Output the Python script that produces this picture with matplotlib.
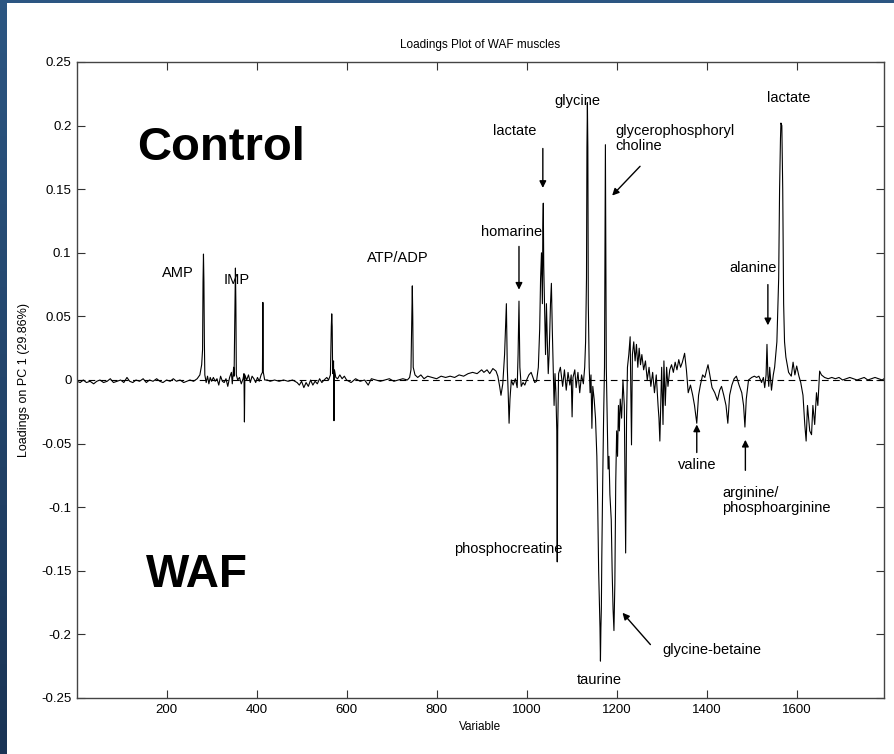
import numpy as np
import matplotlib.pyplot as plt
from matplotlib.patches import Rectangle
from matplotlib.colors import LinearSegmentedColormap

plt.rcParams['font.family'] = ['Liberation Sans', 'DejaVu Sans']

## Loadings (variable, loading)
variable = [
    1, 8, 15, 22, 30, 38, 45, 52, 60, 68, 75, 82, 90, 98, 105, 112, 118, 125, 132, 140,
    148, 155, 162, 170, 178, 185, 192, 200, 208, 215, 222, 230, 238, 245, 252, 260, 268,
    274, 278, 280, 281, 282, 283, 284, 285, 288, 291, 294, 297, 300, 304, 308, 312, 316,
    320, 324, 328, 332, 336, 340, 344, 346, 349, 350, 352, 353, 354, 355, 358, 362, 366,
    370, 372, 373, 374, 378, 382, 386, 390, 394, 398, 402, 406, 410, 413, 414, 415, 418,
    424, 430, 440, 450, 460, 470, 480, 490, 495, 500, 505, 510, 515, 520, 525, 530, 535,
    540, 545, 550, 556, 560, 564, 566, 567, 568, 569, 571, 572, 573, 576, 580, 585, 590,
    595, 600, 610, 620, 630, 640, 648, 655, 665, 675, 685, 695, 705, 715, 725, 735, 740,
    743, 745, 746, 747, 748, 752, 758, 765, 772, 780, 790, 800, 810, 820, 830, 840, 850,
    860, 870, 880, 890, 900, 905, 912, 918, 925, 932, 936,
    940, 943, 947, 951, 955, 957, 959, 961, 963, 966, 970, 975, 979, 981, 983, 985, 988,
    992, 996, 1000, 1005, 1010, 1014, 1018, 1022, 1026, 1029, 1031, 1033, 1035, 1036,
    1037, 1038, 1040, 1042, 1044, 1046, 1048, 1050, 1053, 1055, 1057, 1059, 1061, 1063,
    1065, 1067, 1068, 1069, 1071,
    1075, 1080, 1084, 1088, 1092, 1096, 1099, 1101, 1103, 1107, 1110, 1114, 1118, 1122,
    1126, 1129, 1131, 1133, 1134, 1135, 1136, 1137, 1139, 1141, 1143, 1145, 1147, 1150,
    1153, 1156, 1158, 1160, 1162, 1163, 1164, 1165, 1166, 1167, 1169, 1171, 1173, 1174,
    1175, 1176, 1177, 1179, 1181, 1183, 1185, 1188, 1190, 1192, 1194, 1196, 1198, 1200,
    1202, 1204, 1206, 1208, 1211, 1214, 1217, 1220, 1222, 1224, 1227, 1230, 1233, 1235,
    1238, 1241, 1244, 1247, 1250, 1253, 1256, 1260, 1264, 1268, 1272, 1276, 1280, 1284,
    1288, 1292, 1294, 1296, 1298, 1300, 1303, 1305, 1308, 1311, 1314, 1318,
    1322, 1326, 1330, 1334, 1338, 1342, 1346, 1351, 1355, 1359, 1364, 1369, 1373, 1378,
    1382, 1386, 1391, 1396, 1400, 1403, 1407, 1412, 1418, 1424, 1429, 1433, 1438, 1443,
    1447, 1451, 1456, 1461, 1466, 1472, 1478, 1482, 1485, 1488, 1493, 1500, 1506, 1511,
    1516, 1522, 1526, 1529, 1532, 1534, 1536, 1538, 1540, 1544, 1548, 1551, 1556, 1560,
    1562, 1564, 1565, 1567, 1569, 1571, 1573, 1576, 1582, 1588, 1592, 1596, 1600, 1605,
    1609, 1614, 1618, 1621, 1624, 1629, 1633, 1636, 1640, 1644, 1647, 1651, 1655, 1662,
    1670, 1678, 1686, 1694, 1702, 1710, 1718, 1726, 1734, 1742, 1750, 1758, 1766, 1774,
    1782, 1790, 1794,
]
loading = [
    -0.001, -0.002, 0.000, -0.002, -0.001, -0.003, -0.001, 0.000, -0.002, -0.001, 0.001,
    -0.002, -0.001, 0.000, -0.002, 0.002, -0.001, -0.002, 0.000, -0.001, 0.001, -0.002,
    0.000, -0.001, 0.001, -0.001, -0.002, 0.000, -0.001, 0.001, -0.001, 0.000, -0.002,
    -0.001, 0.000, -0.001, 0.001,
    0.004, 0.012, 0.024, 0.077, 0.099, 0.077, 0.030, 0.004, -0.002, 0.003, -0.003, 0.002,
    -0.001, 0.002, -0.001, 0.001, -0.004, 0.003, -0.001, -0.002, 0.001, -0.005, 0.002,
    0.006, -0.003, 0.010, 0.003, 0.060, 0.088, 0.060, 0.004, 0.000, 0.002, -0.003, 0.001,
    0.005, -0.033, 0.004, 0.000, 0.004, -0.002, 0.003, 0.001, -0.002, 0.002, -0.001,
    0.004, 0.006, 0.061, 0.006, 0.000, 0.000, -0.001, 0.000, -0.001, 0.000, -0.001,
    0.000, -0.002, -0.004, -0.001, -0.006, -0.002, -0.005, 0.000, -0.004, -0.001, -0.003,
    0.001, -0.002, 0.000, 0.002, 0.000, 0.004, 0.042, 0.052, 0.042, 0.005, 0.015, -0.032,
    0.008, 0.002, 0.001, 0.004, 0.001, 0.003, 0.000, -0.002, 0.001, -0.001, 0.000,
    -0.004, 0.001, 0.000, -0.001, 0.000, 0.001, -0.001, 0.000, 0.001, 0.000, 0.002,
    0.008, 0.050, 0.074, 0.050, 0.010, 0.004, 0.002, 0.004, 0.001, 0.003, 0.002, 0.001,
    0.003, 0.002, 0.003, 0.002, 0.004, 0.003, 0.005, 0.006, 0.005, 0.008, 0.006, 0.008,
    0.005, 0.009, 0.007, 0.003,
    -0.005, -0.012, -0.003, 0.020, 0.060, 0.010, -0.010, -0.034, -0.015, 0.000, -0.004,
    0.001, -0.006, 0.020, 0.062, 0.010, -0.005, -0.002, -0.004, 0.000, 0.004, 0.006,
    0.002, -0.002, -0.001, 0.010, 0.040, 0.080, 0.100, 0.060, 0.120, 0.139, 0.090,
    0.055, 0.020, 0.060, 0.030, 0.005, 0.020, 0.060, 0.076, 0.040, 0.010, -0.020, 0.005,
    -0.010, -0.040, -0.143, -0.040, 0.005,
    0.010, -0.005, 0.008, -0.008, 0.006, -0.004, 0.004, -0.029, 0.002, 0.008, -0.006,
    0.006, -0.010, 0.004, -0.003, 0.010, 0.030, 0.080, 0.183, 0.218, 0.183, 0.060, 0.010,
    -0.010, 0.004, -0.038, -0.005, -0.015, -0.030, -0.060, -0.100, -0.150, -0.180,
    -0.195, -0.221, -0.195, -0.180, -0.140, -0.080, -0.030, 0.010, 0.102, 0.185, 0.102,
    0.010, -0.030, -0.070, -0.060, -0.090, -0.110, -0.150, -0.180, -0.197, -0.160,
    -0.080, -0.040, -0.060, -0.020, -0.040, -0.015, -0.030, 0.000, -0.020, -0.136,
    -0.030, 0.010, 0.020, 0.034, -0.051, 0.020, 0.030, 0.015, 0.028, 0.010, 0.025, 0.012,
    0.020, 0.008, 0.015, 0.000, 0.010, -0.005, 0.006, -0.010, 0.004, -0.020, -0.030,
    -0.048, -0.020, 0.010, -0.035, 0.015, -0.020, 0.010, -0.005, 0.008,
    0.012, 0.006, 0.014, 0.008, 0.016, 0.010, 0.014, 0.021, 0.008, -0.010, -0.004,
    -0.012, -0.020, -0.034, -0.012, -0.004, 0.004, 0.002, 0.008, 0.012, 0.004, -0.006,
    -0.010, -0.016, -0.008, -0.005, -0.012, -0.020, -0.034, -0.012, -0.004, 0.001,
    0.003, -0.004, -0.010, -0.020, -0.037, -0.015, 0.000, 0.002, 0.003, 0.002, 0.003,
    -0.002, 0.002, -0.006, 0.004, 0.028, 0.004, -0.005, 0.010, -0.008, 0.004, 0.010,
    0.030, 0.080, 0.150, 0.190, 0.202, 0.200, 0.150, 0.060, 0.030, 0.018, 0.006, 0.003,
    0.014, 0.004, 0.011, 0.003, -0.002, -0.012, -0.035, -0.048, -0.020, -0.040, -0.043,
    -0.020, -0.035, -0.010, -0.020, 0.007, 0.004, 0.002, 0.001, 0.002, 0.001, 0.002,
    0.000, 0.001, 0.002, 0.001, 0.000, 0.001, 0.002, 0.000, 0.001, 0.002, 0.001, 0.000,
    0.001,
]

## Labels of the peaks: (text, x, y, ha)
labels = [
    ('AMP', 225, 0.084, 'center'),
    ('IMP', 356, 0.079, 'center'),
    ('ATP/ADP', 714, 0.096, 'center'),
    ('homarine', 967, 0.116, 'center'),
    ('lactate', 974, 0.196, 'center'),
    ('glycine', 1112, 0.219, 'center'),
    ('glycerophosphoryl\ncholine', 1198, 0.190, 'left'),
    ('lactate', 1582, 0.222, 'center'),
    ('alanine', 1504, 0.088, 'center'),
    ('valine', 1378, -0.067, 'center'),
    ('arginine/\nphosphoarginine', 1434, -0.095, 'left'),
    ('phosphocreatine', 959, -0.133, 'center'),
    ('taurine', 1161, -0.236, 'center'),
    ('glycine-betaine', 1301, -0.212, 'left'),
]
## Arrows: (x_start, y_start, x_end, y_end)
arrows = [
    (983, 0.105, 983, 0.071),
    (1036, 0.182, 1036, 0.151),
    (1252, 0.168, 1190, 0.145),
    (1536, 0.075, 1536, 0.043),
    (1378, -0.057, 1378, -0.035),
    (1486, -0.071, 1486, -0.047),
    (1275, -0.208, 1213, -0.183),
]

fig = plt.figure(figsize=(8.94, 7.54), dpi=100)

# fond bleu en dégradé + zone blanche
bg = fig.add_axes([0, 0, 1, 1], zorder=-10)
cmap = LinearSegmentedColormap.from_list('bleu', ['#2c5682', '#1a3455'])
bg.imshow(np.linspace(0, 1, 100).reshape(-1, 1), aspect='auto', cmap=cmap,
          extent=[0, 1, 0, 1])
bg.axis('off')
fig.patches.append(Rectangle((7 / 894, 0), 1, 751 / 754, transform=fig.transFigure,
                             facecolor='white', edgecolor='none', zorder=-5))

ax = fig.add_axes([77 / 894, 56 / 754, 807 / 894, 636 / 754])
ax.plot(variable, loading, color='black', lw=0.8)
ax.axhline(0, color='black', lw=0.8, ls=(0, (6, 4)))

ax.set_xlim(1, 1794)
ax.set_ylim(-0.25, 0.25)
ax.set_xticks(range(200, 1601, 200))
yt = np.round(np.arange(-0.25, 0.251, 0.05), 2)
ax.set_yticks(yt)
ax.set_yticklabels([('%g' % v) if v != 0 else '0' for v in yt])
ax.tick_params(direction='in', length=6, top=True, right=True, labelsize=9.5, pad=4,
               color='#333333')
for s in ax.spines.values():
    s.set_color('#444444')
    s.set_linewidth(1.0)

ax.set_title('Loadings Plot of WAF muscles', fontsize=8.5, pad=10)
ax.set_xlabel('Variable', fontsize=8.5, labelpad=4)
ax.set_ylabel('Loadings on PC 1 (29.86%)', fontsize=9, labelpad=8)

ax.text(321, 0.182, 'Control', fontsize=34, fontweight='bold', ha='center', va='center')
ax.text(267, -0.153, 'WAF', fontsize=33, fontweight='bold', ha='center', va='center')

for txt, x, y, ha in labels:
    ax.text(x, y, txt, fontsize=10.5, ha=ha, va='center', linespacing=1.1)

for x0, y0, x1, y1 in arrows:
    ax.annotate('', xy=(x1, y1), xytext=(x0, y0),
                arrowprops=dict(arrowstyle='-|>', color='black', lw=1.0,
                                mutation_scale=10, shrinkA=0, shrinkB=0))

plt.savefig('out.png', dpi=100)
